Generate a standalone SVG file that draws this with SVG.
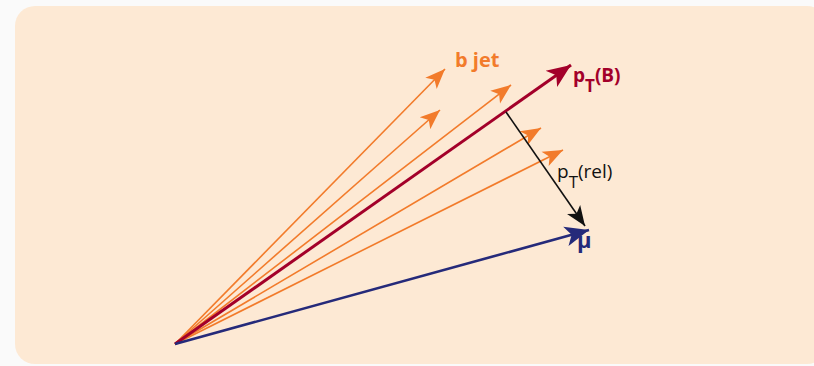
<svg xmlns="http://www.w3.org/2000/svg" width="814" height="366" viewBox="0 0 814 366">
<style>
.or{stroke:#f27b2b;stroke-width:1.6;fill:none}
.lbl{font-family:"Open Sans","Liberation Sans",sans-serif}
</style>
<defs>
<marker id="ao" markerUnits="userSpaceOnUse" markerWidth="22" markerHeight="18" viewBox="0 0 22 18" refX="20" refY="9" orient="auto"><path d="M0,1 L20,9 L0,17 L5,9 z" fill="#f27b2b"/></marker>
<marker id="ar" markerUnits="userSpaceOnUse" markerWidth="26" markerHeight="22" viewBox="0 0 26 22" refX="24" refY="11" orient="auto"><path d="M0,1 L24,11 L0,21 L6,11 z" fill="#a3002a"/></marker>
<marker id="ab" markerUnits="userSpaceOnUse" markerWidth="26" markerHeight="22" viewBox="0 0 26 22" refX="24" refY="11" orient="auto"><path d="M0,1 L24,11 L0,21 L6,11 z" fill="#252a7a"/></marker>
<marker id="ak" markerUnits="userSpaceOnUse" markerWidth="22" markerHeight="18" viewBox="0 0 22 18" refX="20" refY="9" orient="auto"><path d="M0,1 L20,9 L0,17 L5,9 z" fill="#111"/></marker>
</defs>
<rect x="0" y="0" width="814" height="366" fill="#fafafa"/>
<rect x="15" y="6" width="812" height="358" rx="20" fill="#fde9d4"/>
<g id="connectors">
<line class="or" x1="175" y1="344" x2="445" y2="69" marker-end="url(#ao)"/>
<line class="or" x1="175" y1="344" x2="440" y2="110" marker-end="url(#ao)"/>
<line class="or" x1="175" y1="344" x2="511" y2="85" marker-end="url(#ao)"/>
<line class="or" x1="175" y1="344" x2="541" y2="128" marker-end="url(#ao)"/>
<line class="or" x1="175" y1="344" x2="563" y2="150" marker-end="url(#ao)"/>
<line x1="175" y1="344" x2="571" y2="65" stroke="#a3002a" stroke-width="3" marker-end="url(#ar)"/>
<line x1="175" y1="344" x2="589" y2="230" stroke="#252a7a" stroke-width="2.6" marker-end="url(#ab)"/>
<line x1="506" y1="112" x2="585" y2="226" stroke="#111" stroke-width="1.6" marker-end="url(#ak)"/>
</g>
<g id="bjet"><text class="lbl" x="455" y="67" font-size="20" font-weight="bold" fill="#f27b2b">b jet</text></g>
<g id="ptB"><text class="lbl" x="573" y="82" font-size="19" font-weight="bold" fill="#a3002a">p<tspan font-size="17" dy="10">T</tspan><tspan dy="-10">(B)</tspan></text></g>
<g id="ptrel"><text class="lbl" x="557" y="178" font-size="19" fill="#111">p<tspan font-size="17" dy="10">T</tspan><tspan dy="-10">(rel)</tspan></text></g>
<g id="mu"><text class="lbl" x="577" y="248" font-size="22" font-weight="bold" fill="#252a7a">μ</text></g>
</svg>
